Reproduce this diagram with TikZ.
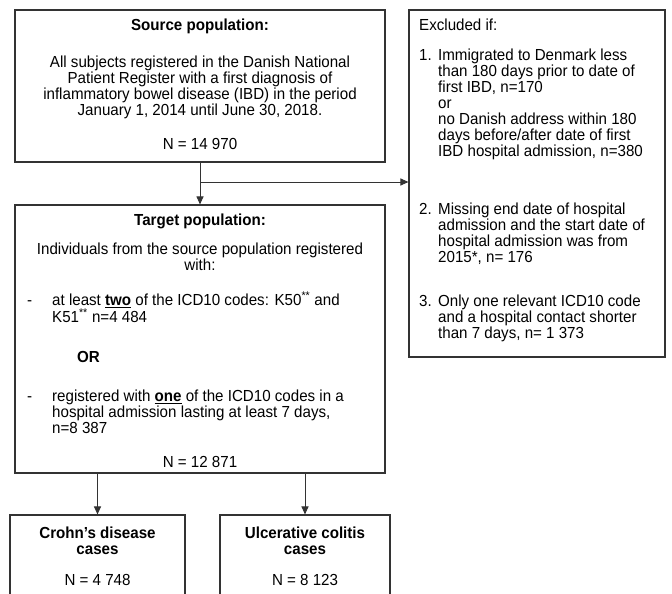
\documentclass[tikz,border=0pt]{standalone}
\usepackage{fontspec}
\setmainfont{Liberation Sans}[FakeStretch=0.945]
\usetikzlibrary{arrows.meta}
\begin{document}
\begin{tikzpicture}[x=1pt,y=-1pt,
  box/.style={draw=black!80, line width=1.1pt, inner sep=0pt},
  txt/.style={inner sep=0pt, font=\fontsize{16}{16.1}\selectfont},
  ttl/.style={inner sep=0pt, font=\fontsize{16}{16.1}\selectfont\bfseries},
  arr/.style={draw=black!80, line width=1pt, -{Triangle[length=8pt,width=7pt]}}]
\useasboundingbox (0,0) rectangle (672,594);
\clip (0,0) rectangle (672,594);
% source
\node[box, minimum width=370pt, minimum height=152pt] (src) at (200,86) {};
\node[ttl] (srct) at (200,26) {Source population:};
\node[txt, align=center] (srcb) at (200,87.5) {All subjects registered in the Danish National\\Patient Register with a first diagnosis of\\inflammatory bowel disease (IBD) in the period\\January 1, 2014 until June 30, 2018.};
\node[txt] (srcn) at (200,144) {N = 14 970};
% target
\node[box, minimum width=370pt, minimum height=268pt] (tg) at (200,339) {};
\node[ttl] (tgt) at (200,221) {Target population:};
\node[txt, align=center] (tgb) at (200,257) {Individuals from the source population registered\\with:};
\node[txt, anchor=west, align=left] (tgi1) at (27,307) {\makebox[25pt][l]{-}at least \underline{\textbf{two}} of the ICD10 codes: K50\textsuperscript{**} and\\\hspace*{25pt}K51\textsuperscript{**} n=4 484};
\node[ttl, anchor=west] (tgor) at (77,357) {OR};
\node[txt, anchor=west, align=left] (tgi2) at (27,412) {\makebox[25pt][l]{-}registered with \underline{\textbf{one}} of the ICD10 codes in a\\\hspace*{25pt}hospital admission lasting at least 7 days,\\\hspace*{25pt}n=8 387};
\node[txt] (tgn) at (200,462) {N = 12 871};
% excluded
\node[box, minimum width=256pt, minimum height=347pt] (ex) at (537,183.5) {};
\node[txt, anchor=west] (ext) at (419,25) {Excluded if:};
\node[txt, anchor=west, align=left] (exi1) at (419,104.5) {\makebox[19pt][l]{1.}Immigrated to Denmark less\\\hspace*{19pt}than 180 days prior to date of\\\hspace*{19pt}first IBD, n=170\\\hspace*{19pt}or\\\hspace*{19pt}no Danish address within 180\\\hspace*{19pt}days before/after date of first\\\hspace*{19pt}IBD hospital admission, n=380};
\node[txt, anchor=west, align=left] (exi2) at (419,234) {\makebox[19pt][l]{2.}Missing end date of hospital\\\hspace*{19pt}admission and the start date of\\\hspace*{19pt}hospital admission was from\\\hspace*{19pt}2015*, n= 176};
\node[txt, anchor=west, align=left] (exi3) at (419,318) {\makebox[19pt][l]{3.}Only one relevant ICD10 code\\\hspace*{19pt}and a hospital contact shorter\\\hspace*{19pt}than 7 days, n= 1 373};
% outcome boxes
\node[box, minimum width=175pt, minimum height=95pt] (cd) at (97.5,562.5) {};
\node[ttl, align=center] (cdt) at (97.5,540.5) {Crohn’s disease\\cases};
\node[txt] (cdn) at (97.5,580) {N = 4 748};
\node[box, minimum width=170pt, minimum height=95pt] (uc) at (305,562.5) {};
\node[ttl, align=center] (uct) at (305,540.5) {Ulcerative colitis\\cases};
\node[txt] (ucn) at (305,580) {N = 8 123};
% connectors
\draw[arr] (src.south) -- (tg.north);
\coordinate (br) at (200,182);
\draw[arr] (br) -- (br -| ex.west);
\draw[arr] (tg.south -| cd.north) -- (cd.north);
\draw[arr] (tg.south -| uc.north) -- (uc.north);
\end{tikzpicture}
\end{document}
